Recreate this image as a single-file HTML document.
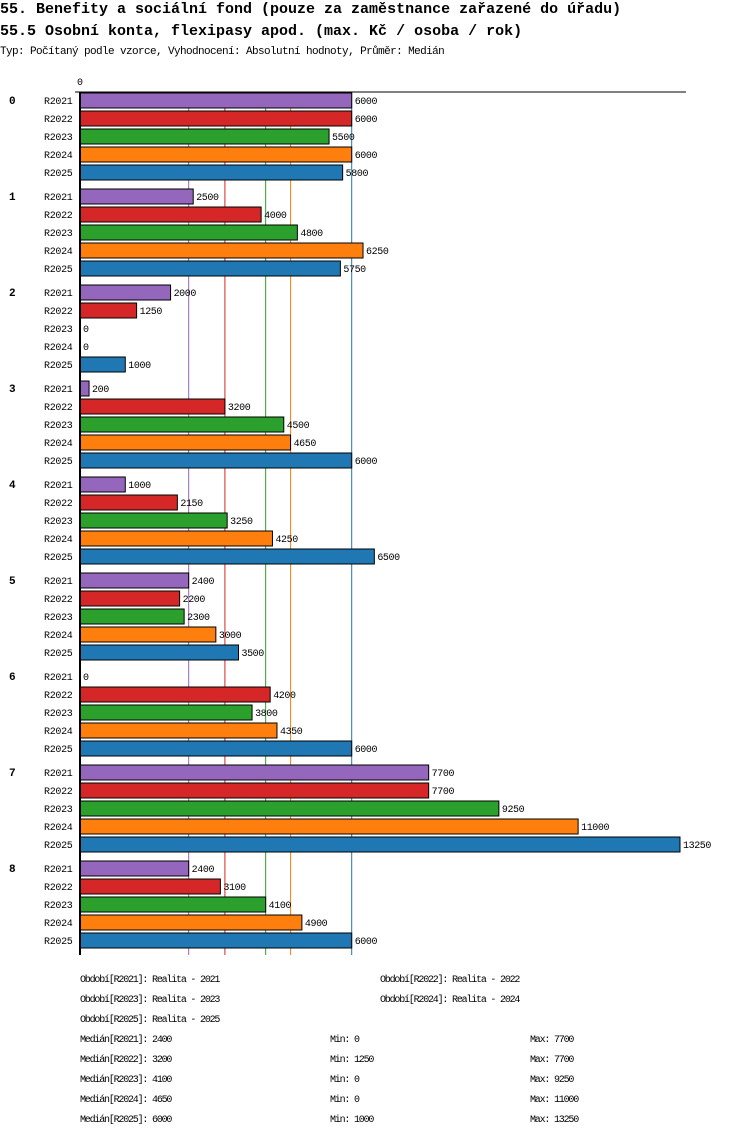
<!DOCTYPE html>
<html><head><meta charset="utf-8"><style>
body{margin:0;background:#fff;width:750px;height:1136px;overflow:hidden;font-family:"Liberation Mono",monospace;}
svg text{font-family:"Liberation Mono",monospace;}
</style></head><body>
<svg id="c" width="750" height="1136" xmlns="http://www.w3.org/2000/svg">
<text x="0" y="13" font-size="15" font-weight="bold">55. Benefity a sociální fond (pouze za zaměstnance zařazené do úřadu)</text>
<text x="0" y="35" font-size="15" font-weight="bold">55.5 Osobní konta, flexipasy apod. (max. Kč / osoba / rok)</text>
<text x="0" y="54" font-size="11" letter-spacing="-0.6">Typ: Počítaný podle vzorce, Vyhodnocení: Absolutní hodnoty, Průměr: Medián</text>
<g id="plot"></g>
<g id="legend"></g>
</svg>
<script>
const groups=["0","1","2","3","4","5","6","7","8"];
const series=["R2021","R2022","R2023","R2024","R2025"];
const colors=["#9467bd","#d62728","#2ca02c","#ff7f0e","#1f77b4"];
const v2021=[6000,2500,2000,200,1000,2400,0,7700,2400];
const v2022=[6000,4000,1250,3200,2150,2200,4200,7700,3100];
const v2023=[5500,4800,0,4500,3250,2300,3800,9250,4100];
const v2024=[6000,6250,0,4650,4250,3000,4350,11000,4900];
const v2025=[5800,5750,1000,6000,6500,3500,6000,13250,6000];
const medians=[2400,3200,4100,4650,6000];
const mins=[0,1250,0,0,1000];
const maxs=[7700,7700,9250,11000,13250];
const values=[v2021,v2022,v2023,v2024,v2025];
const NS="http://www.w3.org/2000/svg";
const x0=80,xMax=13250,pxW=600,plotTop=92,gH=96,rowH=18,plotBottom=955;
const X=v=>x0+v/xMax*pxW;
const plot=document.getElementById('plot');
function el(t,a,p){const e=document.createElementNS(NS,t);for(const k in a)e.setAttribute(k,a[k]);(p||plot).appendChild(e);return e;}
medians.forEach((m,i)=>{
 const l=el('line',{x1:X(m),x2:X(m),y1:plotTop,y2:plotBottom,stroke:colors[i],'stroke-width':1});
 
 
});
groups.forEach((g,gi)=>{
 const gy=plotTop+gi*gH;
 const gl=el('text',{x:9,y:gy+12,'font-size':11,'font-weight':'bold'});gl.textContent=g;
 
 
 series.forEach((s,si)=>{
  const y=gy+si*rowH+1;const v=values[si][gi];
  const sl=el('text',{x:44,y:y+11,'font-size':10,'letter-spacing':-0.3});sl.textContent=s;
  
  
  if(v>0){const r=el('rect',{x:x0,y:y,width:X(v)-x0,height:15,fill:colors[si],stroke:'#000','stroke-width':1});
   
   }
  const t=el('text',{x:X(v)+3,y:y+11,'font-size':10,'letter-spacing':-0.4});t.textContent=v;
  
  
 });
});
const ax=el('line',{x1:75,x2:686,y1:plotTop,y2:plotTop,stroke:'#000','stroke-width':1});


const ay=el('line',{x1:x0,x2:x0,y1:plotTop,y2:plotBottom,stroke:'#000','stroke-width':2});


const z=el('text',{x:77,y:85,'font-size':10});z.textContent='0';


const lg=document.getElementById('legend');
function lt(x,y,s,n){const t=el('text',{x:x,y:y,'font-size':10,'letter-spacing':-1.2},lg);t.textContent=s;
 
 }
series.forEach((s,i)=>{lt(i%2?380:80,982+Math.floor(i/2)*20,'Období['+s+']: Realita - '+s.slice(1),'legend-entry');});
series.forEach((s,i)=>{const y=1042+i*20;
 lt(80,y,'Medián['+s+']: '+medians[i],'median-stat');
 lt(330,y,'Min: '+mins[i],'min-stat');
 lt(530,y,'Max: '+maxs[i],'max-stat');});
</script>
</body></html>
